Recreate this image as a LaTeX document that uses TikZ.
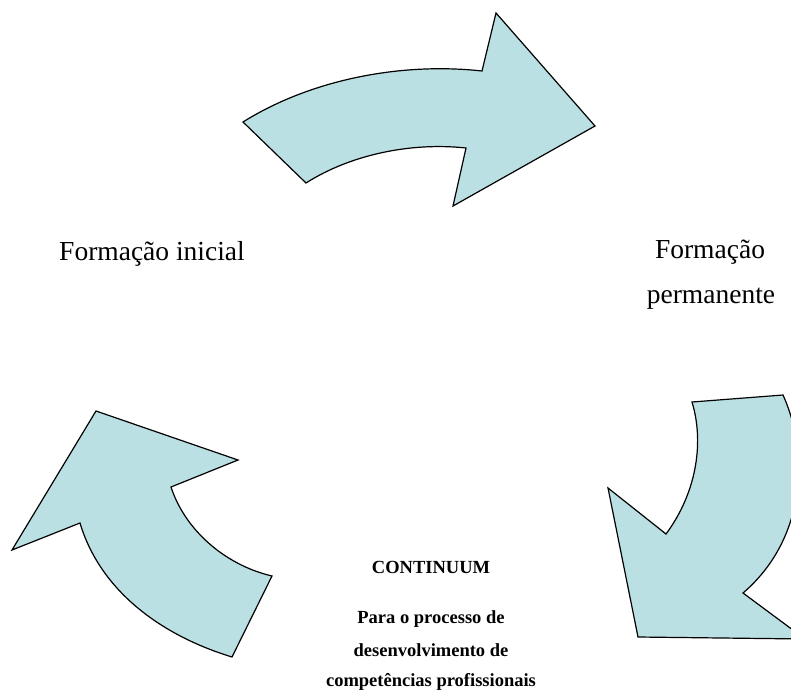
\documentclass[tikz,border=0pt]{standalone}
\usepackage{fontspec}
\setmainfont{Liberation Serif}
\definecolor{arrowfill}{RGB}{187,224,227}
\begin{document}
\begin{tikzpicture}[x=1pt,y=-1pt,
  arrowshape/.style={fill=arrowfill,draw=black,line width=1.2pt,line join=miter},
  lbl/.style={font=\fontsize{27.5}{33}\selectfont,inner sep=0pt,anchor=base},
  bl/.style={font=\bfseries\fontsize{18.5}{22}\selectfont,inner sep=0pt,anchor=base}]
\useasboundingbox (0,0) rectangle (791,690);
\begin{scope}
\clip (0,0) rectangle (791,690);
% top arrow
\path[arrowshape] (243,122) .. controls (310,80) and (400,62) .. (482,71) -- (496,13) -- (595,126) -- (453,206) -- (466,148) .. controls (410,142) and (350,155) .. (306,183) -- cycle;
% right arrow
\path[arrowshape] (692,402) -- (783,395) .. controls (810,455) and (805,540) .. (743,593) -- (805,639) -- (638,637) -- (608,488) -- (666,534) .. controls (695,495) and (705,445) .. (692,402) -- cycle;
% left arrow
\path[arrowshape] (96,411) -- (238,460) -- (171,487) .. controls (185,530) and (225,565) .. (272,576) -- (232,657) .. controls (160,635) and (100,590) .. (80,523) -- (12,550) -- cycle;
\end{scope}
\node[lbl] (fi) at (152,260) {Formação inicial};
\node[lbl] (fp1) at (710,258) {Formação};
\node[lbl] (fp2) at (711,303) {permanente};
\node[bl] (c1) at (431,573) {CONTINUUM};
\node[bl] (c2) at (431,623) {Para o processo de};
\node[bl] (c3) at (431,656) {desenvolvimento de};
\node[bl] (c4) at (431,686) {competências profissionais};
\end{tikzpicture}
\end{document}
